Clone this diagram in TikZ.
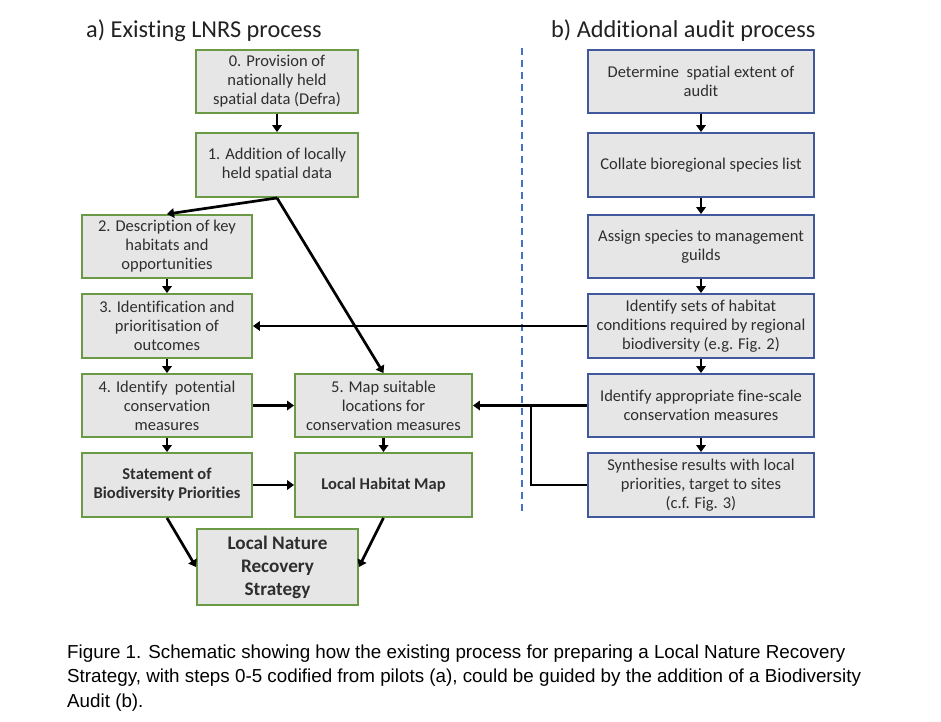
\documentclass[tikz,border=0pt]{standalone}
\usepackage{fontspec}
\setmainfont{Carlito}[Ligatures=NoCommon]
\newfontfamily\capfont{Liberation Sans}
\usetikzlibrary{arrows.meta}
\definecolor{boxfill}{HTML}{E7E6E6}
\definecolor{grn}{HTML}{6A9A45}
\definecolor{blu}{HTML}{41589B}
\definecolor{txt}{HTML}{2E2E2E}
\definecolor{ttl}{HTML}{222222}
\definecolor{dashblue}{HTML}{4472C4}
\tikzset{
  box/.style={draw, fill=boxfill, line width=1.9pt, inner sep=0pt, align=center,
    text=txt, font=\fontsize{16.5}{19}\selectfont},
  gbox/.style={box, draw=grn},
  bbox/.style={box, draw=blu, minimum width=226pt},
  boldbox/.style={gbox, font=\fontsize{16.5}{19}\selectfont\bfseries},
  arr/.style={line width=2.7pt, -{Triangle[width=9.5pt,length=7pt]}},
  plain/.style={line width=2.7pt},
  ttlstyle/.style={anchor=base west, inner sep=0pt, text=ttl, font=\fontsize{24.3}{28}\selectfont},
  capstyle/.style={anchor=base west, inner sep=0pt, text=black, font=\capfont\fontsize{18.8}{24}\selectfont},
  dashline/.style={draw=dashblue, line width=1.5pt, dash pattern=on 7pt off 5pt}
}
\begin{document}
\begin{tikzpicture}[x=1pt, y=-1pt]
\useasboundingbox[fill=white] (0,0) rectangle (941,721);

% titles
\node[ttlstyle] (ta) at (86,37) {a) Existing LNRS process};
\node[ttlstyle] (tb) at (551,37) {b) Additional audit process};

% left column
\node[gbox, minimum width=162pt, minimum height=63pt] (n0) at (277,81.5)
  {0. Provision of\\nationally held\\spatial data (Defra)};
\node[gbox, minimum width=162pt, minimum height=64pt] (n1) at (277,165)
  {1. Addition of locally\\held spatial data};
\node[gbox, minimum width=170pt, minimum height=63pt] (n2) at (167,246.5)
  {2. Description of key\\habitats and\\opportunities};
\node[gbox, minimum width=170pt, minimum height=64pt] (n3) at (167,326)
  {3. Identification and\\prioritisation of\\outcomes};
\node[gbox, minimum width=170pt, minimum height=63pt] (n4) at (167,405.5)
  {4. Identify~ potential\\conservation\\measures};
\node[boldbox, minimum width=170pt, minimum height=64pt] (nS) at (167,485)
  {Statement of\\Biodiversity Priorities};
\node[gbox, minimum width=177pt, minimum height=63pt] (n5) at (383.5,405.5)
  {5. Map suitable\\locations for\\conservation measures};
\node[boldbox, minimum width=177pt, minimum height=64pt] (nH) at (383.5,485)
  {Local Habitat Map};
\node[gbox, minimum width=161pt, minimum height=76pt,
  font=\fontsize{19.2}{23}\selectfont\bfseries] (nL) at (277.5,567)
  {Local Nature\\Recovery\\Strategy};

% right column
\node[bbox, minimum height=63pt] (rA) at (701,81.5)
  {Determine~ spatial extent of\\audit};
\node[bbox, minimum height=64pt] (rB) at (701,165)
  {Collate bioregional species list};
\node[bbox, minimum height=63pt] (rC) at (701,246.5)
  {Assign species to management\\guilds};
\node[bbox, minimum height=64pt] (rD) at (701,326)
  {Identify sets of habitat\\conditions required by regional\\biodiversity (e.g. Fig. 2)};
\node[bbox, minimum height=63pt] (rE) at (701,405.5)
  {Identify appropriate fine-scale\\conservation measures};
\node[bbox, minimum height=64pt] (rF) at (701,485)
  {Synthesise results with local\\priorities, target to sites\\(c.f. Fig. 3)};

% dashed divider
\coordinate (dtop) at (522,48);
\coordinate (dbot) at (522,514);
\draw[dashline] (dtop) -- (dbot);

% left arrows
\draw[arr] (n0.south) -- (n1.north);
\draw[arr] (n1.south) -- (n2.north);
\draw[arr] (n1.south) -- (n5.north);
\draw[arr] (n2.south) -- (n3.north);
\draw[arr] (n3.south) -- (n4.north);
\draw[arr] (n4.south) -- (nS.north);
\draw[arr] (n4.east) -- (n5.west);
\draw[arr] (n5.south) -- (nH.north);
\draw[arr] (nS.east) -- (nH.west);
\draw[arr] (nS.south) -- (nL.west);
\draw[arr] (nH.south) -- (nL.east);

% right arrows
\draw[arr] (rA.south) -- (rB.north);
\draw[arr] (rB.south) -- (rC.north);
\draw[arr] (rC.south) -- (rD.north);
\draw[arr] (rD.south) -- (rE.north);
\draw[arr] (rE.south) -- (rF.north);

% cross links
\draw[arr] (rD.west) -- (n3.east);
\draw[arr] (rE.west) -- (n5.east);
\coordinate (jn) at (531,405.5);
\draw[plain] (rF.west) -| (jn);

% caption
\node[capstyle] (cap1) at (67,658) {Figure 1. Schematic showing how the existing process for preparing a Local Nature Recovery};
\node[capstyle] (cap2) at (67,682.5) {Strategy, with steps 0-5 codified from pilots (a), could be guided by the addition of a Biodiversity};
\node[capstyle] (cap3) at (67,707) {Audit (b).};
\end{tikzpicture}
\end{document}
